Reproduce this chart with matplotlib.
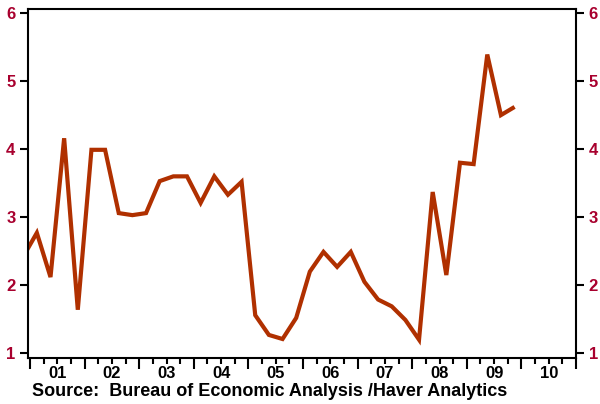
#!/usr/bin/env python3
"""Quarterly series, 2000Q4-2009Q4, with year labels under the axis."""

import matplotlib

matplotlib.use("Agg")
import matplotlib.pyplot as plt

plt.rcParams["font.family"] = ["Liberation Sans", "DejaVu Sans"]
plt.rcParams["font.weight"] = "bold"

LINE_COLOR = "#B03000"
LABEL_COLOR = "#A8002E"

# quarterly values, first point is 2000Q4, last is 2009Q4
first_year = 2000
first_quarter = 4
values = [
    2.42,
    2.77, 2.12, 4.16, 1.64,
    3.99, 3.99, 3.06, 3.03,
    3.06, 3.53, 3.60, 3.60,
    3.21, 3.60, 3.33, 3.52,
    1.56, 1.27, 1.21, 1.52,
    2.20, 2.49, 2.27, 2.49,
    2.05, 1.79, 1.69, 1.49,
    1.20, 3.37, 2.15, 3.80,
    3.78, 5.39, 4.50, 4.62,
]
year_labels = ["01", "02", "03", "04", "05", "06", "07", "08", "09", "10"]
label_years = list(range(2001, 2011))
y_ticks = [1, 2, 3, 4, 5, 6]
source = "Source:  Bureau of Economic Analysis /Haver Analytics"


def quarter_mid(i):
    q = first_quarter - 1 + i
    return first_year + q // 4 + (q % 4) * 0.25 + 0.125


def main():
    x = [quarter_mid(i) for i in range(len(values))]

    fig = plt.figure(figsize=(6.0, 4.04), dpi=100)
    ax = fig.add_axes([28 / 600, 1 - 358 / 404, 548 / 600, 349 / 404])

    ax.plot(x, values, color=LINE_COLOR, lw=3.0, solid_joinstyle="miter",
            solid_capstyle="butt")

    ax.set_xlim(2000.963, 2011.0)
    ax.set_ylim(0.931, 6.059)

    for s in ax.spines.values():
        s.set_linewidth(1.5)

    # y axis: ticks and labels on both sides
    ax.set_yticks(y_ticks)
    ax.tick_params(axis="y", which="both", left=True, right=True,
                   labelleft=True, labelright=True, direction="out",
                   length=6, width=1.5, pad=3, labelsize=12,
                   labelcolor=LABEL_COLOR)

    # x axis: long ticks at year starts, short ticks at quarters
    years = list(range(2001, 2012))
    quarters = [y + q * 0.25 for y in range(2001, 2011) for q in (1, 2, 3)]
    ax.set_xticks(years)
    ax.set_xticklabels([])
    ax.set_xticks(quarters, minor=True)
    ax.tick_params(axis="x", which="major", direction="out", length=8,
                   width=1.5)
    ax.tick_params(axis="x", which="minor", direction="out", length=4,
                   width=1.5)

    # year labels centred in each year
    sec = ax.secondary_xaxis("bottom")
    sec.set_xticks([y + 0.5 for y in label_years], labels=year_labels)
    sec.tick_params(length=0, pad=6, labelsize=12, labelcolor="black")
    sec.spines["bottom"].set_visible(False)

    for lab in ax.get_yticklabels() + sec.get_xticklabels():
        lab.set_fontweight("bold")
    for t in ax.yaxis.get_major_ticks():
        t.label2.set_fontweight("bold")

    fig.text(32 / 600, 1 - 392 / 404, source, fontsize=13,
             fontweight="bold", va="center", ha="left")

    fig.savefig("out.png", dpi=100)
    plt.close(fig)


if __name__ == "__main__":
    main()
